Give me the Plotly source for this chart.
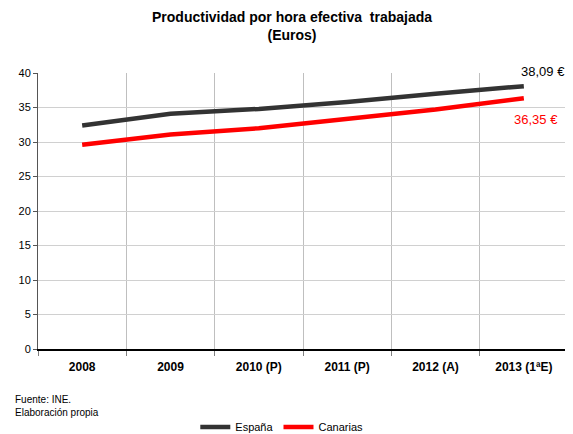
import plotly.graph_objects as go

years = ["2008", "2009", "2010 (P)", "2011 (P)", "2012 (A)", "2013 (1ªE)"]
espana = [32.4, 34.1, 34.8, 35.8, 37.0, 38.09]
canarias = [29.6, 31.1, 32.0, 33.4, 34.7, 36.35]
label_espana = "38,09 €"
label_canarias = "36,35 €"

FONT = "Liberation Sans, Arial, sans-serif"

fig = go.Figure()
fig.add_trace(go.Scatter(x=years, y=espana, name="España", mode="lines",
                         line=dict(color="#333333", width=4.5)))
fig.add_trace(go.Scatter(x=years, y=canarias, name="Canarias", mode="lines",
                         line=dict(color="#ff0000", width=4.5)))

fig.add_annotation(x=years[-1], y=espana[-1], text=label_espana, showarrow=False,
                   xanchor="center", yanchor="bottom", xshift=19, yshift=5,
                   font=dict(family=FONT, size=13, color="#000000"))
fig.add_annotation(x=years[-1], y=canarias[-1], text=label_canarias, showarrow=False,
                   xanchor="center", yanchor="top", xshift=12, yshift=-12,
                   font=dict(family=FONT, size=13, color="#ff0000"))

fig.add_annotation(xref="paper", yref="paper", x=0.479, y=1.10, xanchor="center", yanchor="bottom",
                   showarrow=False,
                   text="<b>Productividad por hora efectiva  trabajada<br>(Euros)</b>",
                   font=dict(family=FONT, size=14, color="#000000"))

fig.add_annotation(xref="paper", yref="paper", x=-0.047, y=-0.156, xanchor="left", yanchor="top",
                   align="left", showarrow=False,
                   text="Fuente: INE.<br>Elaboración propia",
                   font=dict(family=FONT, size=10, color="#000000"))

fig.update_layout(
    width=565, height=426,
    margin=dict(l=30, r=5, t=65, b=85, autoexpand=False),
    paper_bgcolor="white", plot_bgcolor="white",
    font=dict(family=FONT, size=11, color="#000000"),
    showlegend=True,
    legend=dict(orientation="h", x=0.46, xanchor="center", yref="paper", y=-0.283, yanchor="middle",
                font=dict(family=FONT, size=11), traceorder="normal"),
    xaxis=dict(type="category", tickson="boundaries", showgrid=True, gridcolor="#bfbfbf",
               gridwidth=1, showline=True, linecolor="#000000", linewidth=1.5,
               ticks="outside", ticklen=5, tickcolor="#7f7f7f", automargin=False,
               ticklabelstandoff=6,
               tickfont=dict(family=FONT, size=12, color="#000000", weight="bold"),
               mirror=False, range=[-0.5, 5.5]),
    yaxis=dict(range=[0, 40], dtick=5, showgrid=True, gridcolor="#d0d0d0", gridwidth=1,
               showline=True, linecolor="#555555", linewidth=1, ticks="outside",
               ticklen=4, tickcolor="#555555", zeroline=False, automargin=False,
               tickfont=dict(family=FONT, size=11, color="#000000")),
)
fig.add_shape(type="line", xref="paper", yref="paper", x0=1, x1=1, y0=0, y1=1,
              line=dict(color="#bfbfbf", width=1))

fig.write_html("out.html")
